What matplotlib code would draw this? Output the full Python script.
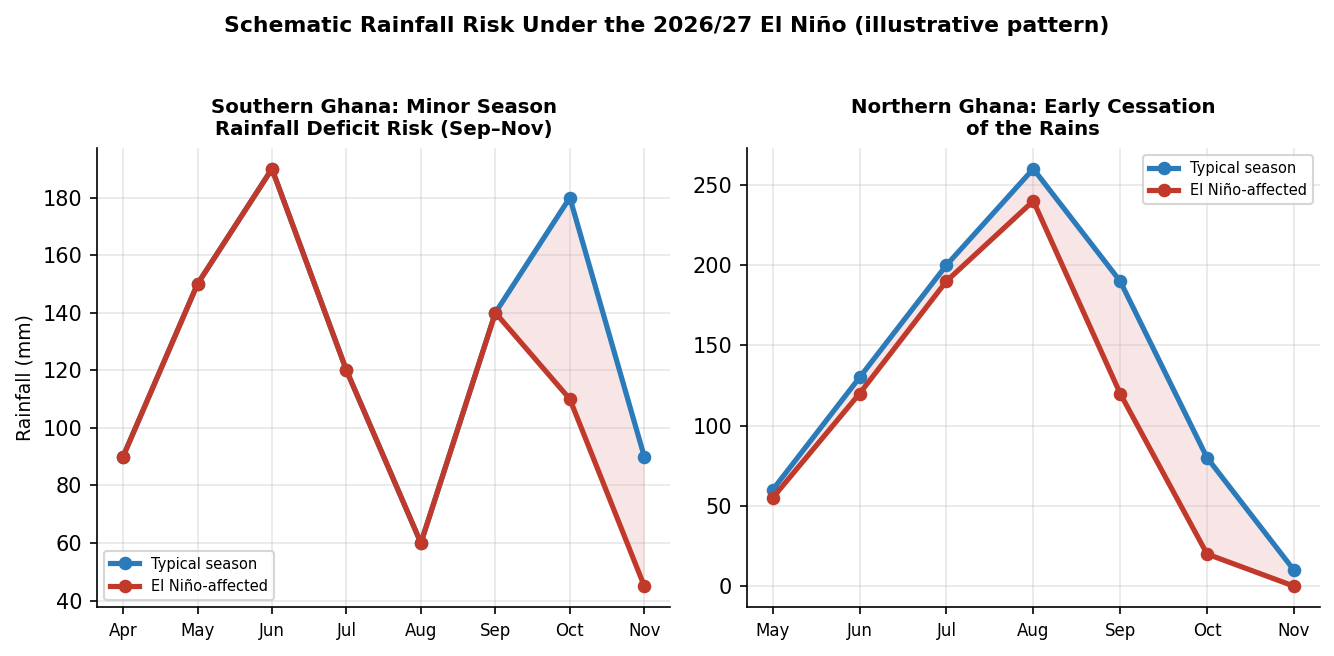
import matplotlib
matplotlib.use("Agg")
import matplotlib.pyplot as plt
import numpy as np

south_months = ["Apr", "May", "Jun", "Jul", "Aug", "Sep", "Oct", "Nov"]
south_typical = [90, 150, 190, 120, 60, 140, 180, 90]
south_nino = [90, 150, 190, 120, 60, 140, 110, 45]

north_months = ["May", "Jun", "Jul", "Aug", "Sep", "Oct", "Nov"]
north_typical = [60, 130, 200, 260, 190, 80, 10]
north_nino = [55, 120, 190, 240, 120, 20, 0]

BLUE = "#2b7bba"
RED = "#c0392b"

fig, axes = plt.subplots(1, 2, figsize=(1334 / 150, 656 / 150), dpi=150)
fig.subplots_adjust(left=0.0727, right=0.9895, top=0.7744, bottom=0.0747, wspace=0.133)

def draw(ax, months, typ, nino, title, legend_loc):
    x = np.arange(len(months))
    typ = np.array(typ, dtype=float)
    nino = np.array(nino, dtype=float)
    ax.fill_between(x, typ, nino, where=typ >= nino, interpolate=True,
                    color=RED, alpha=0.12, linewidth=0)
    ax.plot(x, typ, "-o", color=BLUE, lw=2.5, ms=5.5, label="Typical season")
    ax.plot(x, nino, "-o", color=RED, lw=2.5, ms=5.5, label="El Niño-affected")
    ax.set_xticks(x)
    ax.set_xticklabels(months, fontsize=8)
    ax.set_title(title, fontsize=9.5, fontweight="bold")
    ax.grid(True, alpha=0.3)
    ax.spines["top"].set_visible(False)
    ax.spines["right"].set_visible(False)
    ax.legend(loc=legend_loc, fontsize=7)

draw(axes[0], south_months, south_typical, south_nino,
     "Southern Ghana: Minor Season\nRainfall Deficit Risk (Sep–Nov)", "lower left")
draw(axes[1], north_months, north_typical, north_nino,
     "Northern Ghana: Early Cessation\nof the Rains", "upper right")
axes[0].set_ylabel("Rainfall (mm)", fontsize=9)

fig.suptitle("Schematic Rainfall Risk Under the 2026/27 El Niño (illustrative pattern)",
             fontsize=10.5, fontweight="bold", y=0.976)

fig.savefig("out.png", dpi=150)
